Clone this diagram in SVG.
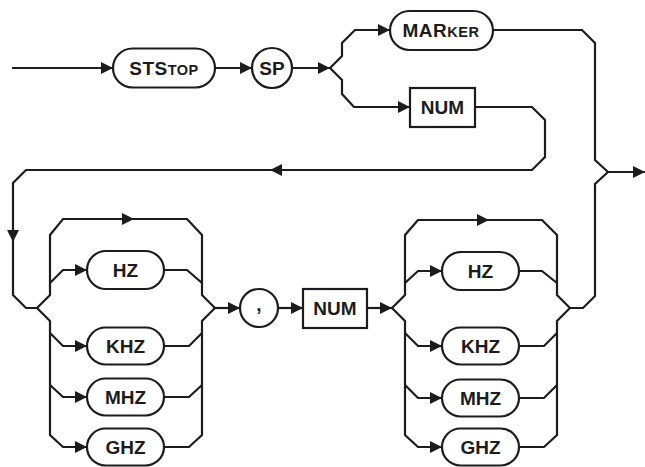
<svg xmlns="http://www.w3.org/2000/svg" xmlns:xlink="http://www.w3.org/1999/xlink" width="645" height="467" viewBox="0 0 645 467">
<style>
.ln{fill:none;stroke:#1c1c1c;stroke-width:2.2;stroke-linejoin:miter}
.box{fill:#fff;stroke:#1c1c1c;stroke-width:2.2}
.t{font-family:"Liberation Sans",Arial,sans-serif;font-weight:bold;fill:#1c1c1c;text-anchor:middle;font-size:19px}
.s{font-size:14.5px}
</style>
<defs>
<path id="ah" d="M0,0 L-12,-6 L-12,6 Z" fill="#1c1c1c"/>
</defs>
<rect width="645" height="467" fill="#fff"/>
<g id="connectors">
<path class="ln" d="M12,68 H113"/>
<path class="ln" d="M215,68 H252"/>
<path class="ln" d="M292,68 H330"/>
<path class="ln" d="M330,68 L342,56 V43 L355,30 H390"/>
<path class="ln" d="M493,30 H582 L595,43 V160 L608,172 H645"/>
<path class="ln" d="M330,68 L342,80 V94 L354,107 H410"/>
<path class="ln" d="M475,107 H532 L545,120 V157 L532,170 H26 L13,183 V295 L26,308 H37"/>
<path class="ln" d="M37,308 L50,295 V235 L63,219 H187 L202,235 V295 L215,308"/>
<path class="ln" d="M50,283 L63,270 H87"/>
<path class="ln" d="M164,270 H187 L202,283"/>
<path class="ln" d="M37,308 L50,321 V435 L63,447 H87"/>
<path class="ln" d="M50,333 L63,346 H87"/>
<path class="ln" d="M164,346 H189 L202,333"/>
<path class="ln" d="M50,385 L63,397 H87"/>
<path class="ln" d="M164,397 H189 L202,385"/>
<path class="ln" d="M164,447 H189 L202,435 V321 L215,308"/>
<path class="ln" d="M215,308 H240"/>
<path class="ln" d="M278,308 H303"/>
<path class="ln" d="M367,308 H392"/>
<g transform="translate(355,0)">
<path class="ln" d="M37,308 L50,295 V235 L63,220 H187 L202,235 V295 L215,308"/>
<path class="ln" d="M50,283 L63,271 H87"/>
<path class="ln" d="M164,271 H187 L202,283"/>
<path class="ln" d="M37,308 L50,321 V435 L63,447 H87"/>
<path class="ln" d="M50,333 L63,346 H87"/>
<path class="ln" d="M164,346 H189 L202,333"/>
<path class="ln" d="M50,385 L63,398 H87"/>
<path class="ln" d="M164,398 H189 L202,385"/>
<path class="ln" d="M164,447 H189 L202,435 V321 L215,308"/>
</g>
<path class="ln" d="M570,308 H583 L595,296 V184 L608,172"/>
<use xlink:href="#ah" transform="translate(113,68)"/>
<use xlink:href="#ah" transform="translate(252,68)"/>
<use xlink:href="#ah" transform="translate(330,68)"/>
<use xlink:href="#ah" transform="translate(390,30)"/>
<use xlink:href="#ah" transform="translate(410,107)"/>
<use xlink:href="#ah" transform="translate(645,172)"/>
<use xlink:href="#ah" transform="translate(270,170) rotate(180)"/>
<use xlink:href="#ah" transform="translate(13,242) rotate(90)"/>
<use xlink:href="#ah" transform="translate(134,219)"/>
<use xlink:href="#ah" transform="translate(87,270)"/>
<use xlink:href="#ah" transform="translate(87,346)"/>
<use xlink:href="#ah" transform="translate(87,397)"/>
<use xlink:href="#ah" transform="translate(87,447)"/>
<use xlink:href="#ah" transform="translate(240,308)"/>
<use xlink:href="#ah" transform="translate(303,308)"/>
<use xlink:href="#ah" transform="translate(392,308)"/>
<use xlink:href="#ah" transform="translate(489,220)"/>
<use xlink:href="#ah" transform="translate(442,271)"/>
<use xlink:href="#ah" transform="translate(442,346)"/>
<use xlink:href="#ah" transform="translate(442,398)"/>
<use xlink:href="#ah" transform="translate(442,447)"/>
</g>
<g id="ststop"><rect class="box" x="113" y="48.5" width="102" height="39" rx="19.5"/><text class="t" x="164" y="75" letter-spacing="0.5">STS<tspan class="s">TOP</tspan></text></g>
<g id="sp"><circle class="box" cx="272" cy="68" r="20"/><text class="t" x="272" y="75">SP</text></g>
<g id="marker"><rect class="box" x="390" y="11" width="103" height="39" rx="19.5"/><text class="t" x="441" y="37" letter-spacing="0.5">MAR<tspan class="s">KER</tspan></text></g>
<g id="num1"><rect class="box" x="410" y="88" width="65" height="39"/><text class="t" x="442.5" y="114">NUM</text></g>
<g id="hz1"><rect class="box" x="87" y="251" width="77" height="38" rx="19"/><text class="t" x="125.5" y="277">HZ</text></g>
<g id="khz1"><rect class="box" x="87" y="327.5" width="77" height="37" rx="18.5"/><text class="t" x="125.5" y="353">KHZ</text></g>
<g id="mhz1"><rect class="box" x="87" y="378.5" width="77" height="37" rx="18.5"/><text class="t" x="125.5" y="404">MHZ</text></g>
<g id="ghz1"><rect class="box" x="87" y="428.5" width="77" height="37" rx="18.5"/><text class="t" x="125.5" y="454">GHZ</text></g>
<g id="comma"><circle class="box" cx="259" cy="308" r="19"/><text class="t" x="259" y="311" font-size="14">,</text></g>
<g id="num2"><rect class="box" x="303" y="289" width="64" height="39"/><text class="t" x="335" y="315">NUM</text></g>
<g id="hz2"><rect class="box" x="442" y="252" width="77" height="38" rx="19"/><text class="t" x="480.5" y="278">HZ</text></g>
<g id="khz2"><rect class="box" x="442" y="327.5" width="77" height="37" rx="18.5"/><text class="t" x="480.5" y="353">KHZ</text></g>
<g id="mhz2"><rect class="box" x="442" y="379.5" width="77" height="37" rx="18.5"/><text class="t" x="480.5" y="405">MHZ</text></g>
<g id="ghz2"><rect class="box" x="442" y="428.5" width="77" height="37" rx="18.5"/><text class="t" x="480.5" y="454">GHZ</text></g>
</svg>
